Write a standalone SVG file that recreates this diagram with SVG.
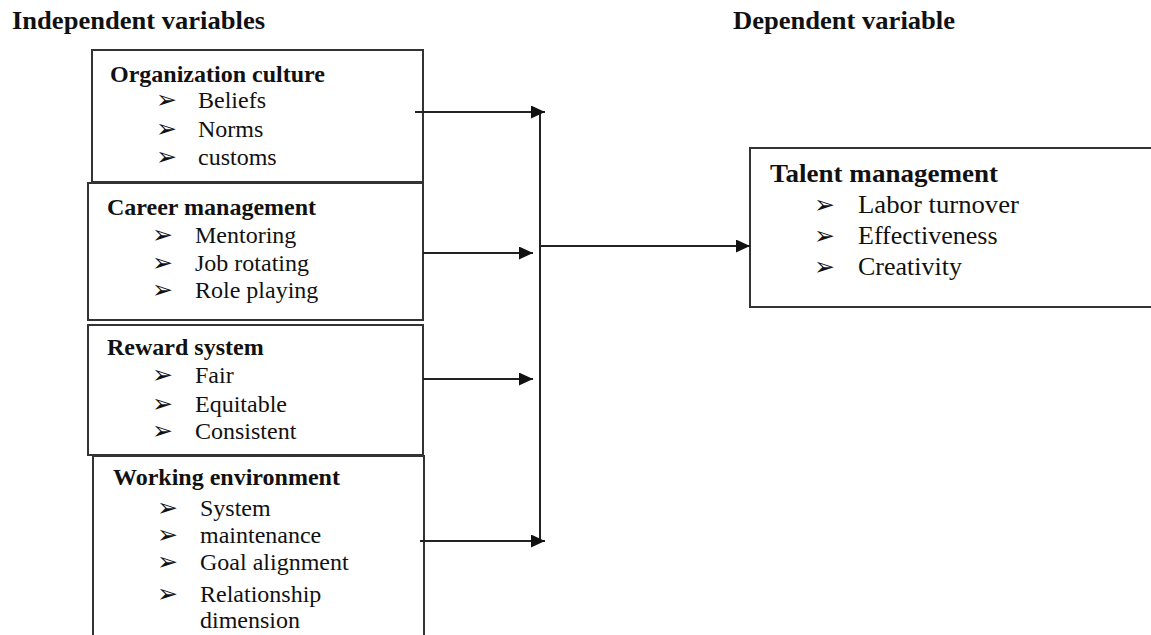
<svg xmlns="http://www.w3.org/2000/svg" width="1151" height="635" viewBox="0 0 1151 635">
<style>
.box{fill:#fff;stroke:#333;stroke-width:2}
.h{font-family:"Liberation Serif","Times New Roman",serif;font-weight:bold;font-size:24px;fill:#111}
.t{font-family:"Liberation Serif","Times New Roman",serif;font-size:24px;fill:#111}
.b{font-family:"DejaVu Sans",sans-serif;font-size:25px;fill:#111}
.big{font-size:26px}
.hd{font-size:25px}
.c{stroke:#222;stroke-width:2;fill:none}
</style>
<defs>
<marker id="ah" markerUnits="userSpaceOnUse" markerWidth="15" markerHeight="13" refX="14" refY="6.5" orient="auto">
<path d="M0,0 L14,6.5 L0,13 Z" fill="#111"/>
</marker>
</defs>
<rect width="1151" height="635" fill="#fff"/>
<text class="h hd" x="12" y="29" textLength="253" lengthAdjust="spacingAndGlyphs">Independent variables</text>
<text class="h hd" x="733" y="29" textLength="222" lengthAdjust="spacingAndGlyphs">Dependent variable</text>

<g id="org-culture">
<rect class="box" x="92" y="50" width="331" height="132"/>
<text class="h" x="110" y="82">Organization culture</text>
<text class="b" x="156" y="108">➢</text><text class="t" x="198" y="108">Beliefs</text>
<text class="b" x="156" y="137">➢</text><text class="t" x="198" y="137">Norms</text>
<text class="b" x="156" y="165">➢</text><text class="t" x="198" y="165">customs</text>
</g>

<g id="career-mgmt">
<rect class="box" x="88" y="183" width="335" height="137"/>
<text class="h" x="107" y="215">Career management</text>
<text class="b" x="152" y="243">➢</text><text class="t" x="195" y="243">Mentoring</text>
<text class="b" x="152" y="271">➢</text><text class="t" x="195" y="271">Job rotating</text>
<text class="b" x="152" y="298">➢</text><text class="t" x="195" y="298">Role playing</text>
</g>

<g id="reward-system">
<rect class="box" x="88" y="325" width="335" height="130"/>
<text class="h" x="107" y="355">Reward system</text>
<text class="b" x="152" y="383">➢</text><text class="t" x="195" y="383">Fair</text>
<text class="b" x="152" y="412">➢</text><text class="t" x="195" y="412">Equitable</text>
<text class="b" x="152" y="439">➢</text><text class="t" x="195" y="439">Consistent</text>
</g>

<g id="working-env">
<rect class="box" x="93" y="456" width="331" height="200"/>
<text class="h" x="113" y="485">Working environment</text>
<text class="b" x="157" y="516">➢</text><text class="t" x="200" y="516">System</text>
<text class="b" x="157" y="543">➢</text><text class="t" x="200" y="543">maintenance</text>
<text class="b" x="157" y="570">➢</text><text class="t" x="200" y="570">Goal alignment</text>
<text class="b" x="157" y="602">➢</text><text class="t" x="200" y="602">Relationship</text>
<text class="t" x="200" y="628">dimension</text>
</g>

<g id="talent-mgmt">
<rect class="box" x="750" y="148" width="410" height="159"/>
<text class="h big" x="770" y="182" textLength="228" lengthAdjust="spacingAndGlyphs">Talent management</text>
<text class="b" x="814" y="213">➢</text><text class="t big" x="858" y="213" textLength="161" lengthAdjust="spacingAndGlyphs">Labor turnover</text>
<text class="b" x="814" y="244">➢</text><text class="t big" x="858" y="244">Effectiveness</text>
<text class="b" x="814" y="275">➢</text><text class="t big" x="858" y="275">Creativity</text>
</g>

<g id="connectors">
<line class="c" x1="540" y1="112" x2="540" y2="541"/>
<line class="c" x1="415" y1="112" x2="545" y2="112" marker-end="url(#ah)"/>
<line class="c" x1="423" y1="253" x2="533" y2="253" marker-end="url(#ah)"/>
<line class="c" x1="423" y1="379" x2="533" y2="379" marker-end="url(#ah)"/>
<line class="c" x1="420" y1="541" x2="545" y2="541" marker-end="url(#ah)"/>
<line class="c" x1="540" y1="246" x2="750" y2="246" marker-end="url(#ah)"/>
</g>
</svg>
